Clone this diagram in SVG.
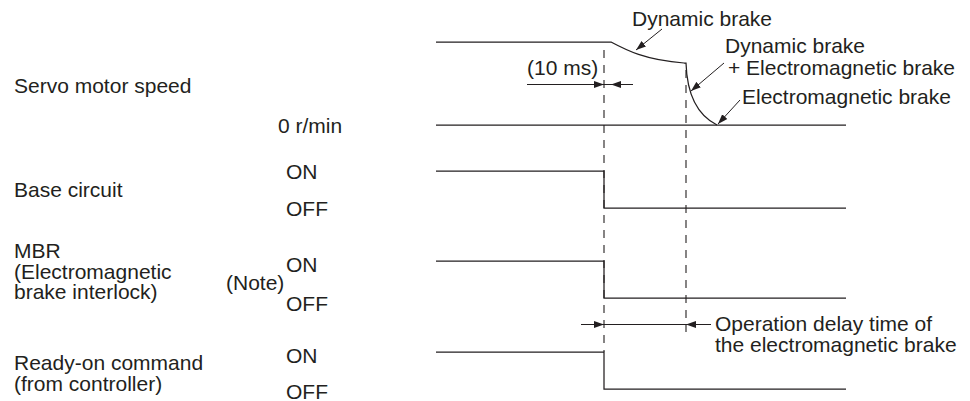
<svg xmlns="http://www.w3.org/2000/svg" xmlns:xlink="http://www.w3.org/1999/xlink" width="970" height="401" viewBox="0 0 970 401">
<style>
  text { font-family: "Liberation Sans", Arial, sans-serif; font-size: 21px; fill: #231f20; }
  .sig { fill: none; stroke: #231f20; stroke-width: 1.25; }
  .dash { fill: none; stroke: #231f20; stroke-width: 1.1; stroke-dasharray: 8 7; }
  .thin { fill: none; stroke: #231f20; stroke-width: 1; }
  .ah { fill: #231f20; stroke: none; }
</style>
<defs>
  <path id="ah" d="M0,0 L-10,-3.5 L-10,3.5 Z"/>
  <marker id="arr" viewBox="-10 -4 10 8" refX="0" refY="0" markerWidth="10" markerHeight="8" markerUnits="userSpaceOnUse" orient="auto">
    <path d="M0,0 L-10,-3.5 L-10,3.5 Z" fill="#231f20"/>
  </marker>
</defs>

<g id="speed">
  <text x="14" y="92.5">Servo motor speed</text>
  <text x="278" y="133">0 r/min</text>
  <path class="sig" d="M436,42 L611,42 C626,50 645,60 684,63 L686,63 C687,95 697,115 717,125"/>
  <path class="sig" d="M436,125 L846,125"/>
</g>

<g id="base-circuit">
  <text x="14" y="196.5">Base circuit</text>
  <text x="286" y="178.5">ON</text>
  <text x="286" y="215.5">OFF</text>
  <path class="sig" d="M436,171 L604,171 L604,208 L846,208"/>
</g>

<g id="mbr">
  <text x="14" y="258">MBR</text>
  <text x="14" y="278.5">(Electromagnetic</text>
  <text x="14" y="299">brake interlock)</text>
  <text x="226" y="289.5">(Note)</text>
  <text x="286" y="271.5">ON</text>
  <text x="286" y="310.5">OFF</text>
  <path class="sig" d="M436,261 L604,261 L604,298 L846,298"/>
</g>

<g id="ready-on">
  <text x="14" y="370">Ready-on command</text>
  <text x="14" y="390.5">(from controller)</text>
  <text x="286" y="363">ON</text>
  <text x="286" y="398.5">OFF</text>
  <path class="sig" d="M436,352 L604,352 L604,389 L846,389"/>
</g>

<g id="labels">
  <text x="632" y="26">Dynamic brake</text>
  <text x="725" y="52.5">Dynamic brake</text>
  <text x="728" y="75">+ Electromagnetic brake</text>
  <text x="742" y="104">Electromagnetic brake</text>
  <text x="527" y="75">(10 ms)</text>
  <text x="715" y="331">Operation delay time of</text>
  <text x="715" y="352">the electromagnetic brake</text>
</g>

<g id="connectors">
  <line class="dash" x1="604" y1="50" x2="604" y2="352"/>
  <line class="dash" x1="686" y1="70" x2="686" y2="332"/>
  <line class="thin" x1="662" y1="29" x2="636" y2="50" marker-end="url(#arr)"/>
  <line class="thin" x1="724" y1="63" x2="691" y2="91" marker-end="url(#arr)"/>
  <line class="thin" x1="740" y1="100" x2="718" y2="124" marker-end="url(#arr)"/>
  <line class="thin" x1="527" y1="84.5" x2="633" y2="84.5"/>
  <use xlink:href="#ah" class="ah" transform="translate(604,84.5)"/>
  <use xlink:href="#ah" class="ah" transform="translate(611,84.5) rotate(180)"/>
  <line class="thin" x1="581" y1="324.5" x2="711" y2="324.5"/>
  <use xlink:href="#ah" class="ah" transform="translate(604,324.5)"/>
  <use xlink:href="#ah" class="ah" transform="translate(686,324.5) rotate(180)"/>
</g>
</svg>
